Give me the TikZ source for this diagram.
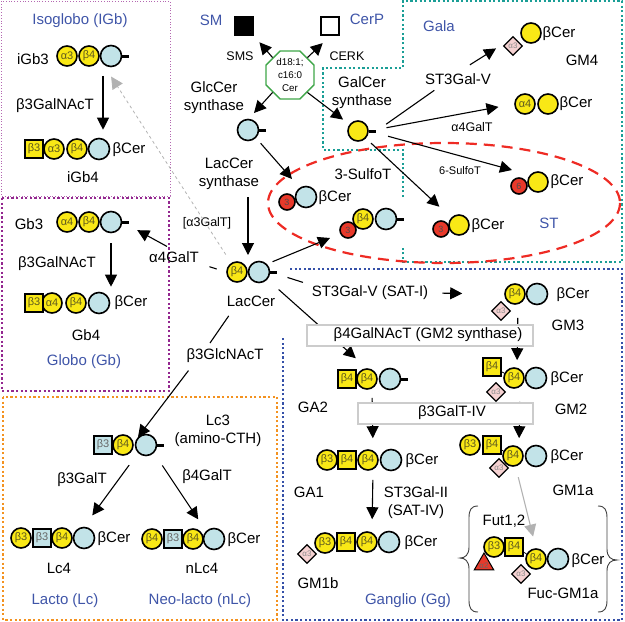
\documentclass[tikz,border=0pt]{standalone}
\usepackage{fontspec}
\setmainfont{Liberation Sans}
\usetikzlibrary{arrows.meta,shapes.geometric}
\definecolor{resyellow}{HTML}{F9E816}
\definecolor{resblue}{HTML}{C2E3E8}
\definecolor{resred}{HTML}{E8392A}
\definecolor{respink}{HTML}{F6D2D2}
\definecolor{restext}{HTML}{5F5A1E}
\definecolor{headblue}{HTML}{3F55A8}
\definecolor{frpurple}{HTML}{93278F}
\definecolor{frteal}{HTML}{1A9E96}
\definecolor{frorange}{HTML}{F39220}
\definecolor{frblue}{HTML}{3550A8}
\definecolor{cergreen}{HTML}{3FA648}
\definecolor{stred}{HTML}{EE2B24}
\begin{document}
\begin{tikzpicture}[x=1pt,y=-1pt,
  lab/.style={font=\fontsize{15}{18}\selectfont,align=center,inner sep=1pt},
  smalllab/.style={font=\fontsize{12.5}{15}\selectfont,inner sep=1pt},
  head/.style={lab,text=headblue},
  res/.style={circle,draw=black,line width=1.6pt,minimum size=20pt,inner sep=0pt,
    font=\fontsize{11}{12}\selectfont,text=restext},
  galres/.style={res,fill=resyellow},
  glcres/.style={res,fill=resblue,minimum size=21pt},
  sqres/.style={res,rectangle,fill=resyellow,minimum size=18pt},
  bsqres/.style={sqres,fill=resblue,text=black!60},
  sulres/.style={res,fill=resred,minimum size=16pt,font=\fontsize{9}{10}\selectfont,text=black!70},
  sialres/.style={diamond,draw=black,line width=1.3pt,fill=respink,minimum size=19pt,inner sep=0pt,
    font=\fontsize{8}{9}\selectfont,text=black!45},
  enzbox/.style={rectangle,draw=black!20,line width=1.2pt,fill=white,inner sep=0pt},
  frame/.style={line width=2.3pt,dash pattern=on 2.2pt off 2.4pt},
  arw/.style={-{Triangle[length=12pt,width=12pt]},line width=1.1pt},
  plain/.style={line width=1.1pt},
  grayarw/.style={arw,black!30},
  cerend/.style={line width=3pt}]
\useasboundingbox (0,0) rectangle (625,622);
% family frames
\draw[frpurple!70,line width=.8pt,dotted] (1,1) rectangle (170,196);
\draw[frame,frpurple] (2,198) rectangle (169,391);
\draw[frame,frorange] (3,397) rectangle (277,620);
\draw[frame,frblue] (290,269) -- (622,269) -- (622,620) -- (283,620) -- (283,336);
\draw[frame,frteal] (403,197) -- (403,150) -- (323,150) -- (323,68) -- (403,68) -- (403,1) -- (622,1) -- (622,262) -- (403,262) -- (403,247);
\draw[stred,line width=2.2pt,dash pattern=on 11pt off 7pt] (444,203) ellipse (176 and 60);
% family names
\foreach \n/\x/\y/\t in {hiso/80/21/Isoglobo (IGb),hglo/84/362/Globo (Gb),hlac/65/601/Lacto (Lc),
  hnlc/200/601/Neo-lacto (nLc),hgan/408/601/Ganglio (Gg),hgala/439/26/Gala,hst/549/223/ST,
  hsm/211/20/SM,hcp/367/19/CerP}
  \node[head] (\n) at (\x,\y) {\t};
% enzymes and lipid names
\foreach \n/\x/\y/\t in {ligb3/33/59/iGb3,e3ga/55/106/β3GalNAcT,ligb4/83/177/iGb4,
  lgb3/29/224/Gb3,e3gb/57/264/β3GalNAcT,lgb4/86/335/Gb4,e4gal/174/257/α4GalT,
  eglc/214/98/{GlcCer\\synthase},elac/229/174/{LacCer\\synthase},lcer/251/301/LacCer,
  egal/362/93/{GalCer\\synthase},esul/363/174/3-SulfoT,est/458/79/ST3Gal-V,lgm4/582/60/GM4,
  enac/225/356/β3GlcNAcT,llc3/218/431/{Lc3\\(amino-CTH)},e3gt/82/480/β3GalT,e4gt/207/477/β4GalT,
  llc4/59/568/Lc4,lnlc/202/568/nLc4,
  esat/370/293/ST3Gal-V (SAT-I),lgm3/568/325/GM3,lga2/313/407/GA2,lgm2/571/409/GM2,
  lga1/309/492/GA1,lgm1a/573/490/GM1a,esat2/416/503/{ST3Gal-II\\(SAT-IV)},lgm1b/318/583/GM1b,
  efut/504/521/{Fut1,2},lfuc/563/593/Fuc-GM1a,
  c1/129/150/βCer,c2/131/303/βCer,c3/335/198/βCer,c4/559/34/βCer,c5/576/104/βCer,c6/567/182/βCer,
  c7/488/226/βCer,c8/114/539/βCer,c9/244/540/βCer,c10/573/295/βCer,c11/567/379/βCer,c12/567/457/βCer,
  c13/422/461/βCer,c14/421/543/βCer,c15/588/561/βCer}
  \node[lab] (\n) at (\x,\y) {\t};
\node[smalllab] (eag) at (207,223) {[α3GalT]};
\node[smalllab] (a4gt) at (472,127) {α4GalT};
\node[smalllab,font=\fontsize{11}{13}\selectfont] (s6t) at (460,171) {6-SulfoT};
\node[smalllab] (esms) at (240,56) {SMS};
\node[smalllab] (ecerk) at (347,56) {CERK};
% ceramide and its products
\node[regular polygon,regular polygon sides=8,draw=cergreen,line width=1.4pt,fill=white,
  minimum size=52pt,inner sep=0pt,align=center,font=\fontsize{9.8}{13}\selectfont] (cer) at (290,75) {d18:1;\\c16:0\\Cer};
\node[rectangle,fill=black,minimum size=20pt,inner sep=0pt] (sm) at (244,26) {};
\node[rectangle,draw=black,line width=2.5pt,fill=white,minimum size=18pt,inner sep=0pt] (cerp) at (330,26) {};
% glucose
\foreach \n/\x/\y in {igb3g/111/56,igb4g/99/149,gb3g/111/222,gb4g/99/303,glc/248/130,lacg/259/272,
  sulg/306/197,slcg/386/219,lc3g/146/445,lc4g/84/538,nlcg/214/539,gm3g/537/294,ga2g/390/379,
  gm2g/536/378,ga1g/391/460,gm1g/536/456,gmbg/389/542,fucg/558/559}
  \node[glcres] (\n) at (\x,\y) {};
% galactose
\foreach \n/\x/\y/\t in {igb3a/67/56/α3,igb3b/89/56/β4,igb4a/54/149/α3,igb4b/77/149/β4,
  gb3a/67/222/α4,gb3b/89/222/β4,gb4a/52/303/α4,gb4b/76/303/β4,lacb/237/272/β4,slcb/363/219/β4,
  lc3b/123/445/β4,lc4a/21/538/β3,lc4b/62/538/β4,nlca/152/539/β4,nlcb/193/539/β4,
  gm3b/515/294/β4,ga2b/367/379/β4,gm2b/514/378/β4,ga1a/327/460/β3,ga1b/368/460/β4,
  gm1a/470/445/β3,gm1b/513/456/β4,gmba/325/543/β3,gmbb/367/542/β4,fuca/494/547/β3,fucb/536/559/β4,
  galc/358/131/{},gm4y/531/33/{},a4a/525/104/α4,a4y/548/104/{},s6y/538/182/{},s3y/459/225/{}}
  \node[galres] (\n) at (\x,\y) {\t};
\foreach \n in {igb3g,gb3g,glc,lacg,slcg,lc3g,ga2g,galc}
  \draw[cerend] (\n.east) -- ++(7,0);
% GalNAc and GlcNAc
\foreach \n/\x/\y/\t in {igb4s/34/149/β3,gb4s/34/303/β3,ga2s/347/379/β4,gm2s/492/367/β4,ga1s/347/460/β4,
  gm1s/492/445/β4,gmbs/346/542/β4,fucs/514/547/β4}
  \node[sqres] (\n) at (\x,\y) {\t};
\foreach \n/\x/\y in {lc3s/103/445,lc4s/42/538,nlcs/173/539}
  \node[bsqres] (\n) at (\x,\y) {β3};
% sulfate
\foreach \n/\x/\y/\t in {sulr/287/202/3,slcr/348/230/3,s6r/519/186/6,s3r/441/229/3}
  \node[sulres] (\n) at (\x,\y) {\t};
% sialic acid
\foreach \n/\x/\y in {gm4d/513/46,gm3d/501/311,gm2d/496/392,gm1d/499/468,gmbd/307/554,fucd/521/574}
  \node[sialres] (\n) at (\x,\y) {α3};
% fucose
\node[isosceles triangle,isosceles triangle apex angle=60,shape border rotate=90,draw=black,line width=1pt,fill=resred,
  minimum height=17pt,inner sep=0pt,font=\fontsize{8}{9}\selectfont,text=black!60] (fucr) at (484,566) {α2};
% free ends
\coordinate (glcin) at (254,113);
\coordinate (sulin) at (292,179);
\coordinate (lacin) at (248,255);
\coordinate (slcin) at (330,238);
\coordinate (s6in) at (512,170);
\coordinate (nacout) at (210,343);
% arrows
\draw[arw,shorten >=8pt] (cer.135) -- (sm.south east);
\draw[arw,shorten >=10pt] (cer.45) -- (cerp.south);
\draw[arw] (cer.225) -- (glcin);
\draw[arw,shorten >=8pt] (cer.315) -- (galc);
\draw[arw,shorten <=7pt] (glc.south east) -- (sulin);
\draw[arw,shorten <=56pt] (glc) -- (lacin);
\draw[arw,shorten <=6pt] (lacg.north east) -- (slcin);
\draw[plain,shorten <=25pt,shorten >=8pt] (galc.south east) -- ([xshift=17pt]est.south west);
\draw[arw,shorten <=14pt,shorten >=14pt] (est.north) -- (gm4d.north west);
\draw[arw,shorten <=18pt,shorten >=16pt] (galc.east) -- (a4a.west);
\draw[arw,shorten <=20pt] (galc.east) -- (s6in);
\draw[arw,shorten <=7pt,shorten >=16pt] (galc) -- (s3y);
\draw[plain,shorten <=10pt,shorten >=10pt] (lacb.west) -- (e4gal.south east);
\draw[arw,shorten <=8pt,shorten >=17pt] (e4gal.north) -- (gb3g.east);
\draw[grayarw,dashed,line width=.8pt,shorten <=10pt,shorten >=15pt] (lacb) -- (igb3g.south west);
\draw[arw,shorten <=12pt,shorten >=8pt] (igb3g.south west) -- (igb3g.south west |- igb4g.north);
\draw[arw,shorten <=10pt,shorten >=5pt] (gb3g.south) -- (gb3g.south |- gb4g.north);
\draw[plain,shorten <=42pt] (lacg) -- (nacout);
\draw[arw,shorten <=8pt] ([xshift=8pt]enac.south west) -- (lc3g.north west);
\draw[arw,shorten <=15pt,shorten >=14pt] (lc3g.south west) -- (lc4g.north);
\draw[arw,shorten <=15pt,shorten >=14pt] (lc3g.south east) -- (nlcg.north west);
\draw[plain,shorten <=18pt,shorten >=8pt] (lacg.east) -- (esat.north west);
\draw[arw,shorten <=13pt,shorten >=42pt] (esat.east) -- (gm3b.west);
\draw[arw,shorten <=15pt,shorten >=15pt] (lacg) -- (ga2b.north);
\draw[arw,shorten <=13pt,shorten >=7pt] ([xshift=3pt]gm3b.south) -- ([xshift=3pt]gm2b.north);
\draw[arw,shorten <=8pt,shorten >=11pt] ([xshift=5pt]ga2b.south) -- ([xshift=5pt]ga1b.north);
\draw[arw,shorten <=13pt,shorten >=7pt] ([xshift=6pt]gm2b.south) -- ([xshift=6pt]gm1b.north);
\draw[arw,shorten <=9pt,shorten >=12pt] ([xshift=5pt]ga1b.south) -- ([xshift=5pt]gmbb.north);
\draw[grayarw,shorten <=11pt,shorten >=12pt] (gm1b) -- (fucb.north);
% square to branch
\foreach \a/\b in {gm2s/gm2b,gm1s/gm1b,fucs/fucb}
  \draw[line width=.7pt] (\a) -- (\b);
% enzyme bars over the arrows
\node[enzbox,minimum width=226pt,minimum height=21pt] (barnac) at (420,335.5) {};
\node[lab] (enac2) at (428,335) {β4GalNAcT (GM2 synthase)};
\node[enzbox,minimum width=175pt,minimum height=21pt] (bargt) at (445.5,413.5) {};
\node[lab] (egt4) at (452,413) {β3GalT-IV};
% braces
\draw[line width=.9pt,black!75] (478,506) .. controls (471,506) and (469,510) .. (469,518) -- (469,547)
  .. controls (469,555) and (465,558) .. (460,558) .. controls (465,558) and (469,561) .. (469,569)
  -- (469,600) .. controls (469,608) and (471,612) .. (478,612);
\draw[line width=.9pt,black!75] (598,506) .. controls (605,506) and (607,510) .. (607,518) -- (607,549)
  .. controls (607,557) and (611,560) .. (617,560) .. controls (611,560) and (607,563) .. (607,571)
  -- (607,600) .. controls (607,608) and (605,612) .. (598,612);
\end{tikzpicture}
\end{document}
